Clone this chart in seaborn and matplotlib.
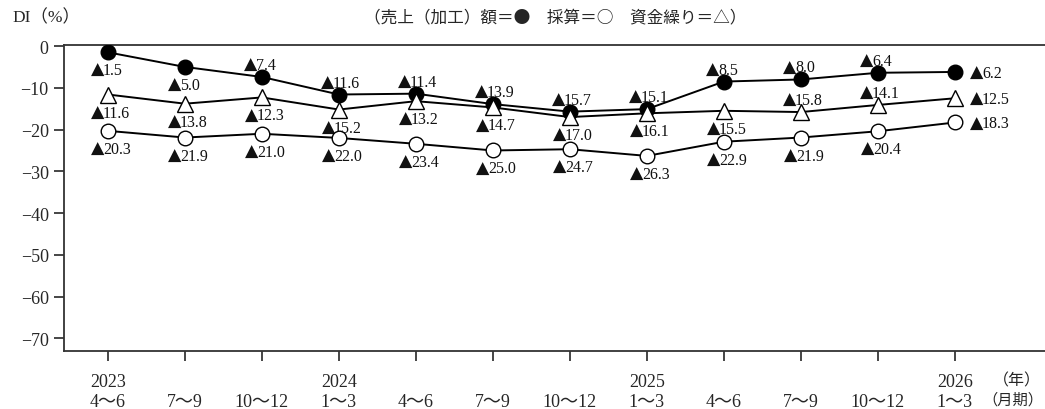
import pandas as pd
import seaborn as sns
import matplotlib.pyplot as plt

years = ["2023", "", "", "2024", "", "", "", "2025", "", "", "", "2026"]
months = ["4～6", "7～9", "10～12", "1～3", "4～6", "7～9",
          "10～12", "1～3", "4～6", "7～9", "10～12", "1～3"]
sales = [-1.5, -5.0, -7.4, -11.6, -11.4, -13.9, -15.7, -15.1, -8.5, -8.0, -6.4, -6.2]
funding = [-11.6, -13.8, -12.3, -15.2, -13.2, -14.7, -17.0, -16.1, -15.5, -15.8, -14.1, -12.5]
profit = [-20.3, -21.9, -21.0, -22.0, -23.4, -25.0, -24.7, -26.3, -22.9, -21.9, -20.4, -18.3]

# where each value label sits relative to its marker
sales_pos = ["b", "b", "a", "a", "a", "a", "a", "a", "a", "a", "a", "r"]
funding_pos = ["b", "b", "b", "b", "b", "b", "b", "b", "b", "a", "a", "r"]
profit_pos = ["b"] * 11 + ["r"]

df = pd.DataFrame({"x": range(len(months)), "sales": sales,
                   "funding": funding, "profit": profit})

sns.set_theme(style="white")
plt.rcParams["font.family"] = ["Liberation Serif", "Noto Sans CJK JP", "DejaVu Sans"]
plt.rcParams["axes.unicode_minus"] = True

fig = plt.figure(figsize=(10.45, 4.10), dpi=100)
ax = fig.add_axes([64 / 1045, 58 / 410, 1 - 64 / 1045, 306 / 410])

sns.lineplot(data=df, x="x", y="sales", ax=ax, color="black", linewidth=1.4,
             marker="o", markersize=10.5, markerfacecolor="black",
             markeredgecolor="black", markeredgewidth=1.0, zorder=3)
sns.lineplot(data=df, x="x", y="funding", ax=ax, color="black", linewidth=1.4,
             marker="^", markersize=12, markerfacecolor="white",
             markeredgecolor="black", markeredgewidth=1.0, zorder=4)
sns.lineplot(data=df, x="x", y="profit", ax=ax, color="black", linewidth=1.4,
             marker="o", markersize=10.5, markerfacecolor="white",
             markeredgecolor="black", markeredgewidth=1.0, zorder=5)

# (x offset of the split between ▲ and number, baseline offset) in pixels
offsets = {"a": (-6, 8), "b": (-5, -22), "r": (27, -5)}
for vals, pos in [(sales, sales_pos), (funding, funding_pos), (profit, profit_pos)]:
    for i, (v, p) in enumerate(zip(vals, pos)):
        dx, dy = offsets[p]
        ax.annotate("▲", (i, v), xytext=(dx + 1, dy), textcoords="offset pixels",
                    ha="right", va="baseline", fontsize=12.5, color="#111111",
                    family="DejaVu Sans")
        ax.annotate(f"{abs(v):.1f}", (i, v), xytext=(dx, dy),
                    textcoords="offset pixels", ha="left", va="baseline",
                    fontsize=11.5, color="#111111", family="Liberation Serif")

ax.set_xlim(-0.57, 12.17)
ax.set_ylim(-73, 0.25)
ax.set_yticks(range(0, -71, -10))
ax.set_xticks(range(len(months)))
ax.set_xticklabels([f"{y}\n{m}" for y, m in zip(years, months)], fontsize=13, linespacing=1.2)
ax.tick_params(axis="y", labelsize=13, length=7, width=1.2, direction="out", pad=4, left=True)
ax.tick_params(axis="x", length=7, width=1.2, direction="out", pad=9, bottom=True)
ax.set_xlabel("")
ax.set_ylabel("")

for side in ["left", "bottom", "top"]:
    ax.spines[side].set_color("#333333")
    ax.spines[side].set_linewidth(1.3)
ax.spines["right"].set_visible(False)

fig.text(12 / 1045, 1 - 18 / 410, "DI（%）", fontsize=12.5, va="center", ha="left")
fig.text(555 / 1045, 1 - 18 / 410, "（売上（加工）額＝●　採算＝○　資金繰り＝△）",
         fontsize=12, va="center", ha="center", family=["Noto Sans CJK JP", "DejaVu Sans"])
fig.text(1017 / 1045, 1 - 381 / 410, "（年）", fontsize=11.5, va="center", ha="center",
         family=["Noto Sans CJK JP"])
fig.text(1043 / 1045, 1 - 400 / 410, "（月期）", fontsize=11, va="center", ha="right",
         family=["Noto Sans CJK JP"])

fig.savefig("out.png", dpi=100)
